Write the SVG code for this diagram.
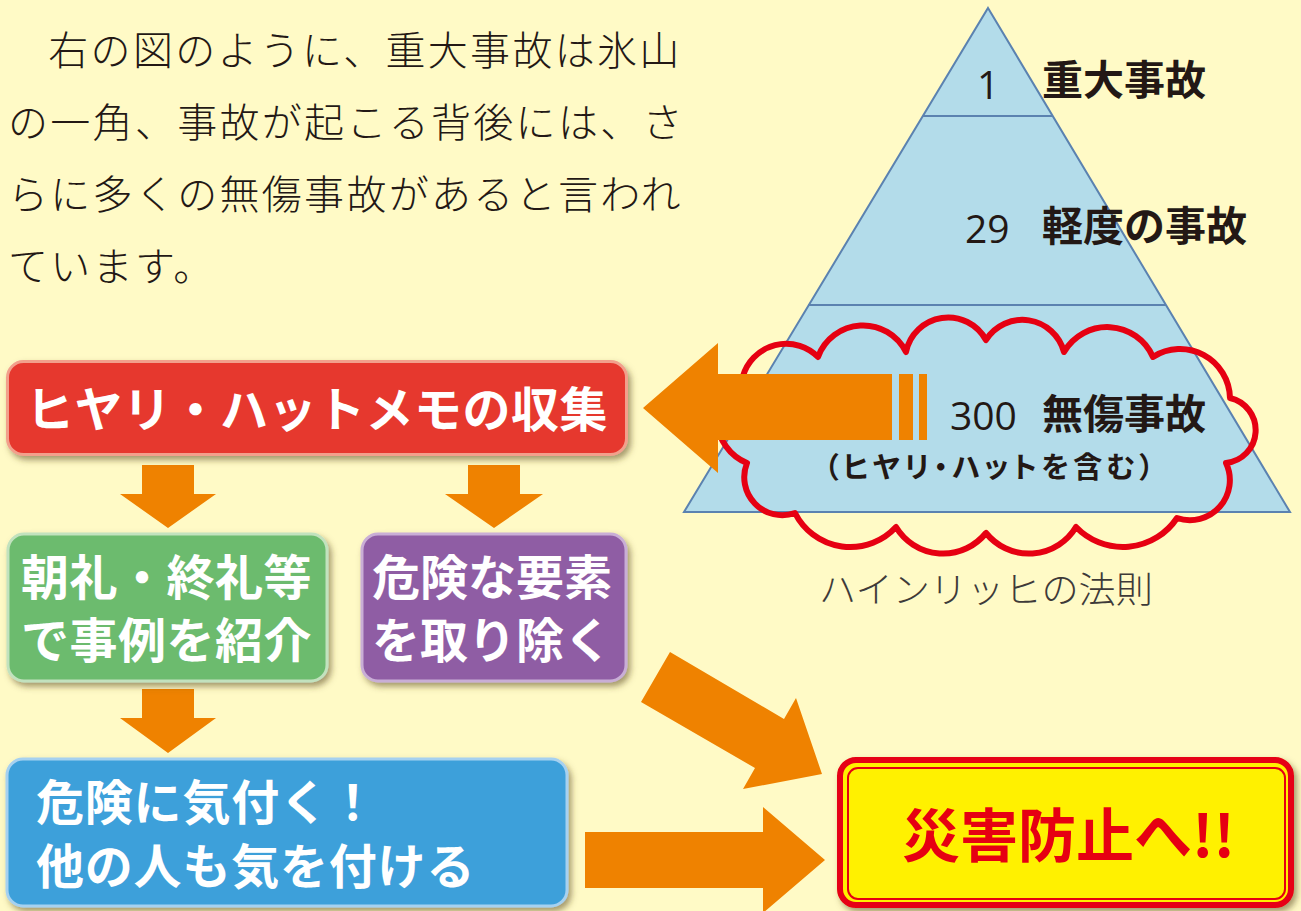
<svg xmlns="http://www.w3.org/2000/svg" width="1301" height="911" viewBox="0 0 1301 911">
<defs>
<style>
.para{font-family:"Noto Sans CJK JP","Noto Sans CJK SC",sans-serif;font-size:40px;font-weight:300;fill:#231815;letter-spacing:2.3px}
.lbl{font-family:"Noto Sans CJK JP",sans-serif;font-weight:700;fill:#231815}
.num{font-family:"Open Sans","Noto Sans",sans-serif;font-size:39px;fill:#231815}
.btxt{font-family:"Noto Sans CJK JP",sans-serif;font-weight:700;font-size:48px;fill:#ffffff}
.arrow{fill:#EF8200}
.box{stroke-width:3}
</style>
<filter id="sh" x="-10%" y="-10%" width="125%" height="130%">
<feDropShadow dx="3" dy="4" stdDeviation="3" flood-color="#5a4a1a" flood-opacity="0.55"/>
</filter>
</defs>
<rect width="1301" height="911" fill="#FFFAC6"/>

<g id="paragraph">
<text class="para" x="6" y="65">　右の図のように、重大事故は氷山</text>
<text class="para" x="8" y="137">の一角、事故が起こる背後には、さ</text>
<text class="para" x="8" y="209">らに多くの無傷事故があると言われ</text>
<text class="para" x="8" y="281">ています。</text>
</g>

<g id="pyramid">
<polygon points="988,8 1290,512 684,512" fill="#B3DCEA" stroke="#5B82B0" stroke-width="2"/>
<line x1="923" y1="116" x2="1053" y2="116" stroke="#5B82B0" stroke-width="2"/>
<line x1="808" y1="305" x2="1166" y2="305" stroke="#5B82B0" stroke-width="2"/>
<text class="num" x="977" y="99">1</text>
<text class="lbl" x="1042" y="95" font-size="41">重大事故</text>
<text class="num" x="965" y="243">29</text>
<text class="lbl" x="1042" y="241" font-size="41">軽度の事故</text>
<text class="num" x="950" y="430">300</text>
<text class="lbl" x="1042" y="429" font-size="41">無傷事故</text>
<text class="lbl" x="824" y="478" font-size="29" style="font-feature-settings:'palt'" textLength="330" lengthAdjust="spacing">（ヒヤリ・ハットを含む）</text>
</g>

<g id="cloud">
<path d="M743,376 A45,45 0 0 1 818,357 A48,48 0 0 1 906,352 A43,43 0 0 1 986,340 A43,43 0 0 1 1064,352 A50,50 0 0 1 1153,357 A50,50 0 0 1 1230,398 A33,33 0 0 1 1226,463 A40,40 0 0 1 1177,518 A65,65 0 0 1 1076,527 A55,55 0 0 1 986,533 A55,55 0 0 1 896,527 A62,62 0 0 1 795,513 A38,38 0 0 1 747,463 A48,48 0 0 1 743,376 Z" fill="none" stroke="#E60012" stroke-width="6" stroke-linejoin="round"/>
</g>

<g id="caption">
<text x="819" y="603" font-family="Noto Sans CJK JP, sans-serif" font-weight="300" font-size="36" fill="#3E3A39" textLength="334" lengthAdjust="spacingAndGlyphs">ハインリッヒの法則</text>
</g>

<g id="connectors">
<polygon class="arrow" points="643,408 718,343 718,374 892,374 892,440 718,440 718,473"/>
<rect class="arrow" x="899" y="374" width="14" height="66"/>
<rect class="arrow" x="919" y="374" width="8" height="66"/>
<polygon class="arrow" points="142,465 194,465 194,494 216,494 168,528 120,494 142,494"/>
<polygon class="arrow" points="468,465 520,465 520,494 543,494 494,528 445,494 468,494"/>
<polygon class="arrow" points="142,689 194,689 194,718 216,718 168,753 120,718 142,718"/>
<polygon class="arrow" points="585,832 763,832 763,807 825,860 763,913 763,888 585,888"/>
<polygon class="arrow" points="670,652 784,719 796,698 822,774 743,789 755,768 641,702"/>
</g>

<g id="collect">
<rect class="box" x="7.5" y="361.5" width="619" height="93" rx="16" fill="#E6392F" stroke="#F2A08C" filter="url(#sh)"/>
<text class="btxt" x="26" y="427" letter-spacing="0.5">ヒヤリ・ハットメモの収集</text>
</g>

<g id="share">
<rect class="box" x="8" y="534" width="319" height="147" rx="16" fill="#6CBB6E" stroke="#C2E2BE" filter="url(#sh)"/>
<text class="btxt" letter-spacing="0.5"><tspan x="21" y="595">朝礼・終礼等</tspan><tspan x="21" y="658">で事例を紹介</tspan></text>
</g>

<g id="remove">
<rect class="box" x="362" y="534" width="264" height="147" rx="16" fill="#8F5DA4" stroke="#C9AED6" filter="url(#sh)"/>
<text class="btxt"><tspan x="372" y="595">危険な要素</tspan><tspan x="372" y="658">を取り除く</tspan></text>
</g>

<g id="notice">
<rect class="box" x="7" y="759" width="560" height="147" rx="16" fill="#3DA0DA" stroke="#A6D1F0" filter="url(#sh)"/>
<text class="btxt" letter-spacing="0.8"><tspan x="36" y="820">危険に気付く！</tspan><tspan x="36" y="884">他の人も気を付ける</tspan></text>
</g>

<g id="prevent">
<rect x="840" y="760" width="451" height="145" rx="16" fill="#FFF100" stroke="#E60012" stroke-width="6" filter="url(#sh)"/>
<rect x="848" y="768" width="437" height="131" rx="10" fill="none" stroke="#E60012" stroke-width="2"/>
<text x="902" y="857" font-family="Noto Sans CJK JP, sans-serif" font-weight="700" font-size="58" fill="#E60012">災害防止へ!!</text>
</g>
</svg>
